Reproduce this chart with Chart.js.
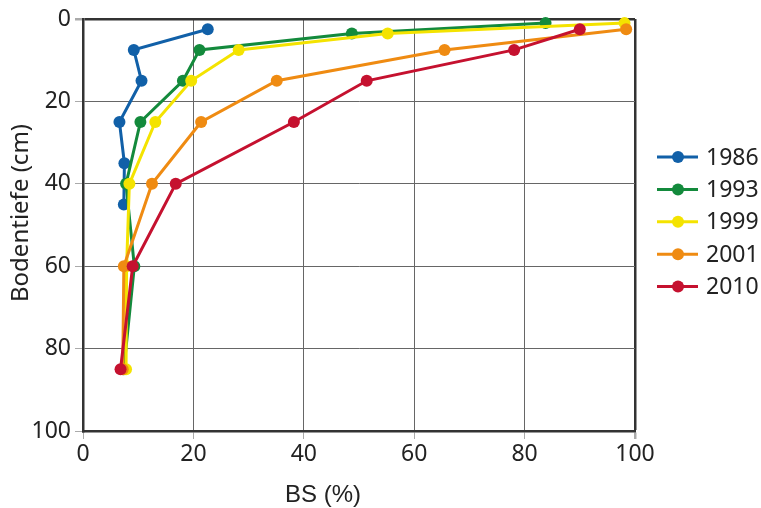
<!DOCTYPE html>
<html>
<head>
<meta charset="utf-8">
<script src="https://cdn.jsdelivr.net/npm/chart.js@4.4.1/dist/chart.umd.min.js"></script>
<style>
  html, body { margin: 0; padding: 0; background: #fff; }
  #wrap { width: 761px; height: 508px; }
</style>
</head>
<body>
<div id="wrap"><canvas id="grafico-bs"></canvas></div>
<script>
// Basensättigung (BS %) nach Bodentiefe (cm)
const jahre = ['1986', '1993', '1999', '2001', '2010'];
const farben = ['#1160a8', '#138a3c', '#f4e300', '#ef8b12', '#c5112f'];

const tiefe1986 = [2.5, 7.5, 15, 25, 35, 45];
const bs1986 = [22.6, 9.2, 10.6, 6.6, 7.5, 7.4];

const tiefe1993 = [1, 3.5, 7.5, 15, 25, 40, 60, 85];
const bs1993 = [83.8, 48.7, 21.1, 18.1, 10.4, 7.8, 9.3, 7.4];

const tiefe1999 = [1, 3.5, 7.5, 15, 25, 40, 60, 85];
const bs1999 = [98.1, 55.2, 28.2, 19.6, 13.1, 8.4, 7.9, 7.8];

const tiefe2001 = [2.5, 7.5, 15, 25, 40, 60, 85];
const bs2001 = [98.4, 65.5, 35.1, 21.4, 12.5, 7.4, 7.2];

const tiefe2010 = [2.5, 7.5, 15, 25, 40, 60, 85];
const bs2010 = [90, 78.1, 51.4, 38.2, 16.8, 9.0, 6.8];

const xTicks = [0, 20, 40, 60, 80, 100];
const yTicks = [0, 20, 40, 60, 80, 100];

const tiefen = [tiefe1986, tiefe1993, tiefe1999, tiefe2001, tiefe2010];
const werte = [bs1986, bs1993, bs1999, bs2001, bs2010];

const schrift = "'Noto Sans', 'Open Sans', sans-serif";

const datasets = jahre.map((jahr, i) => ({
  label: jahr,
  data: werte[i].map((v, k) => ({ x: v, y: tiefen[i][k] })),
  showLine: true,
  borderColor: farben[i],
  backgroundColor: farben[i],
  borderWidth: 3,
  pointRadius: 6,
  pointBorderWidth: 0,
  pointHoverRadius: 6,
  tension: 0,
  clip: false,
  order: jahre.length - 1 - i
}));

// Legende und Achsentitel selbst zeichnen
const extras = {
  id: 'extras',
  afterDraw(chart) {
    const ctx = chart.ctx;
    ctx.save();
    ctx.textBaseline = 'middle';
    jahre.forEach((jahr, i) => {
      const y = 157 + i * 32.4;
      ctx.strokeStyle = farben[i];
      ctx.lineWidth = 3;
      ctx.beginPath();
      ctx.moveTo(657, y);
      ctx.lineTo(698, y);
      ctx.stroke();
      ctx.fillStyle = farben[i];
      ctx.beginPath();
      ctx.arc(678, y, 6, 0, Math.PI * 2);
      ctx.fill();
      ctx.fillStyle = '#222';
      ctx.font = '23px ' + schrift;
      ctx.textAlign = 'left';
      ctx.fillText(jahr, 706, y + 1);
    });

    ctx.fillStyle = '#222';
    ctx.font = "24px 'Liberation Sans', Arial, sans-serif";
    ctx.textAlign = 'center';
    ctx.fillText('BS (%)', 323, 495);

    ctx.translate(21, 213);
    ctx.rotate(-Math.PI / 2);
    ctx.font = '24px ' + schrift;
    ctx.fillText('Bodentiefe (cm)', 0, 0);
    ctx.restore();
  }
};

const gitterFarbe = (rand) => (c) => (c.tick && c.tick.value === rand ? '#333' : '#666');
const gitterBreite = (rand) => (c) => (c.tick && c.tick.value === rand ? 2.5 : 1);

new Chart(document.getElementById('grafico-bs'), {
  type: 'scatter',
  data: { datasets: datasets },
  options: {
    responsive: true,
    maintainAspectRatio: false,
    animation: false,
    layout: { padding: { left: 0, top: 19, right: 126, bottom: 0 } },
    plugins: {
      legend: { display: false },
      tooltip: { enabled: false }
    },
    scales: {
      x: {
        type: 'linear',
        min: 0,
        max: 100,
        afterBuildTicks: (s) => { s.ticks = xTicks.map(v => ({ value: v })); },
        afterFit: (s) => { s.height = 77; },
        ticks: { color: '#222', font: { family: schrift, size: 23 }, padding: 2, maxRotation: 0 },
        grid: { color: gitterFarbe(100), lineWidth: gitterBreite(100), tickLength: 8, tickColor: '#aaa' },
        border: { color: '#333', width: 2.5 }
      },
      y: {
        type: 'linear',
        reverse: true,
        min: 0,
        max: 100,
        afterBuildTicks: (s) => { s.ticks = yTicks.map(v => ({ value: v })); },
        afterFit: (s) => { s.width = 83; },
        ticks: { color: '#222', font: { family: schrift, size: 23 }, padding: 4 },
        grid: { color: gitterFarbe(0), lineWidth: gitterBreite(0), tickLength: 8, tickColor: '#aaa' },
        border: { color: '#333', width: 2.5 }
      }
    }
  },
  plugins: [extras]
});
</script>
</body>
</html>
